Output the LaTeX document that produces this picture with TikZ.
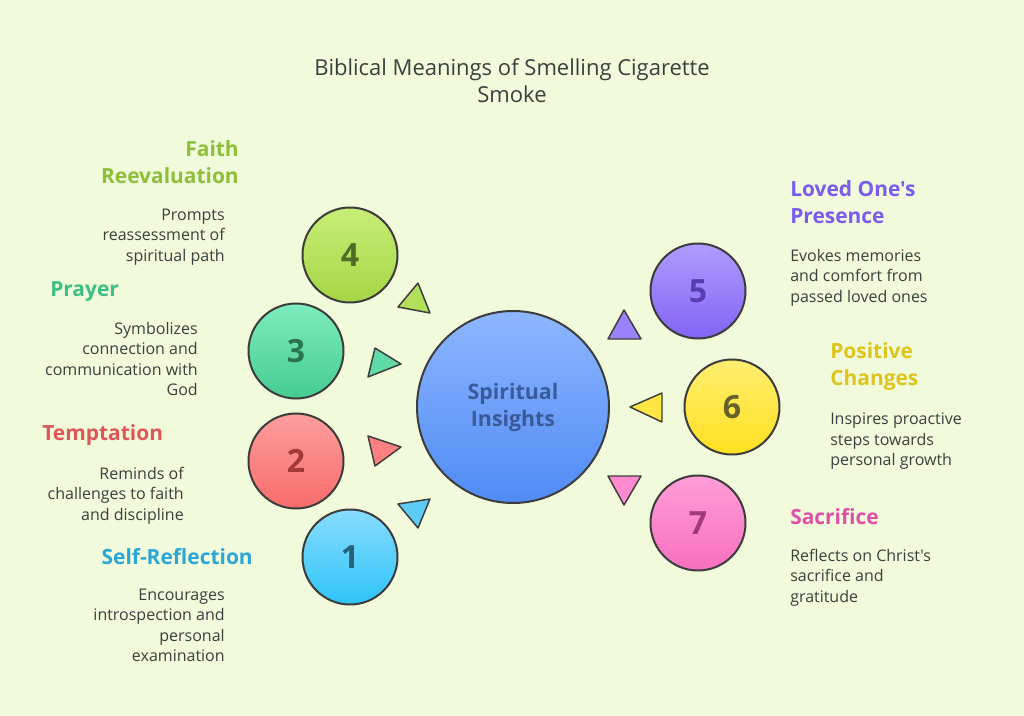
\documentclass[tikz,border=0pt]{standalone}
\usepackage{fontspec}
\setmainfont{Open Sans}[Ligatures=TeXOff]
\definecolor{bg}{HTML}{F1FADB}
\definecolor{edge}{HTML}{3C3C3C}
\definecolor{txt}{HTML}{3E3E3E}
\definecolor{cA}{HTML}{5CCBF5}\definecolor{cAt}{HTML}{88DDFF}\definecolor{cAb}{HTML}{2EC3F7}\definecolor{cAl}{HTML}{2AA7D6}\definecolor{cAn}{HTML}{2A6079}
\definecolor{cB}{HTML}{FF8080}\definecolor{cBt}{HTML}{FF9E9E}\definecolor{cBb}{HTML}{F86B6B}\definecolor{cBl}{HTML}{E05656}\definecolor{cBn}{HTML}{A33A3A}
\definecolor{cC}{HTML}{5EDBA6}\definecolor{cCt}{HTML}{7EECBE}\definecolor{cCb}{HTML}{45CC90}\definecolor{cCl}{HTML}{3DBE84}\definecolor{cCn}{HTML}{2A7452}
\definecolor{cD}{HTML}{B3E05A}\definecolor{cDt}{HTML}{C8EE78}\definecolor{cDb}{HTML}{A5D645}\definecolor{cDl}{HTML}{8EBF3A}\definecolor{cDn}{HTML}{4F6B26}
\definecolor{cE}{HTML}{9B82FA}\definecolor{cEt}{HTML}{B09CFF}\definecolor{cEb}{HTML}{8463F3}\definecolor{cEl}{HTML}{7A5CEF}\definecolor{cEn}{HTML}{5A3DB0}
\definecolor{cF}{HTML}{FFE545}\definecolor{cFt}{HTML}{FFEE70}\definecolor{cFb}{HTML}{FFE020}\definecolor{cFl}{HTML}{DDC51E}\definecolor{cFn}{HTML}{66602A}
\definecolor{cG}{HTML}{FF8ACF}\definecolor{cGt}{HTML}{FF9ED8}\definecolor{cGb}{HTML}{F86FC0}\definecolor{cGl}{HTML}{E04FA7}\definecolor{cGn}{HTML}{A03A7A}
\definecolor{cHt}{HTML}{8EB6FF}\definecolor{cHb}{HTML}{4F8BF5}\definecolor{cHn}{HTML}{3A5A98}
\tikzset{
  bub/.style={circle, draw=edge, line width=1.5pt, minimum size=71.25pt, inner sep=0pt, font=\bfseries\fontsize{24}{24}\selectfont},
  tri/.style={draw=edge, line width=1.1pt, line join=round},
  head/.style={font=\bfseries\fontsize{15.7}{20.25}\selectfont, inner sep=0pt},
  body/.style={font=\fontsize{12}{15.4}\selectfont, text=txt, inner sep=0pt},
}
\begin{document}
\begin{tikzpicture}[x=0.75pt,y=-0.75pt]
\fill[bg] (0,0) rectangle (1024,716);
\useasboundingbox (0,0) rectangle (1024,716);
% title
\node[font=\fontsize{16.5}{20.25}\selectfont, text=txt, align=center] (title) at (512,80.5) {Biblical Meanings of Smelling Cigarette\\Smoke};
% center
\node[circle, draw=edge, line width=1.5pt, minimum size=144pt, inner sep=0pt, top color=cHt, bottom color=cHb, text=cHn, align=center, font=\bfseries\fontsize{16}{20.25}\selectfont] (hub) at (513,407) {Spiritual\\Insights};
% bubbles
\node[bub, top color=cAt, bottom color=cAb, text=cAn] (n1) at (350,557) {1};
\node[bub, top color=cBt, bottom color=cBb, text=cBn] (n2) at (296,461) {2};
\node[bub, top color=cCt, bottom color=cCb, text=cCn] (n3) at (296,351) {3};
\node[bub, top color=cDt, bottom color=cDb, text=cDn] (n4) at (350,255) {4};
\node[bub, top color=cEt, bottom color=cEb, text=cEn] (n5) at (698,291) {5};
\node[bub, top color=cFt, bottom color=cFb, text=cFn] (n6) at (732,407) {6};
\node[bub, top color=cGt, bottom color=cGb, text=cGn] (n7) at (698,523) {7};
% triangles
\draw[tri, fill=cD] (418,283) -- (398,307) -- (430,313) -- cycle;
\draw[tri, fill=cC] (375,348) -- (368,377) -- (401,364) -- cycle;
\draw[tri, fill=cB] (368,436) -- (375,466) -- (401,447) -- cycle;
\draw[tri, fill=cA] (398,504) -- (430,499) -- (418,528) -- cycle;
\draw[tri, fill=cE] (624,310) -- (608,339) -- (641,339) -- cycle;
\draw[tri, fill=cF] (630,407) -- (662,393) -- (662,422) -- cycle;
\draw[tri, fill=cG] (608,476) -- (641,476) -- (624,505) -- cycle;
% left labels
\node[head, text=cDl, anchor=east, align=right] (h4) at (239,162.5) {Faith\\Reevaluation};
\node[body, anchor=east, align=right] (b4) at (225,237) {Prompts\\reassessment of\\spiritual path};
\node[head, text=cCl, anchor=west] (h3) at (50,292) {Prayer};
\node[body, anchor=east, align=right] (b3) at (198,359) {Symbolizes\\connection and\\communication with\\God};
\node[head, text=cBl, anchor=west] (h2) at (42,435) {Temptation};
\node[body, anchor=east, align=right] (b2) at (184,495.5) {Reminds of\\challenges to faith\\and discipline};
\node[head, text=cAl, anchor=east] (h1) at (253,557) {Self-Reflection};
\node[body, anchor=east, align=right] (b1) at (225,625.5) {Encourages\\introspection and\\personal\\examination};
% right labels
\node[head, text=cEl, anchor=west, align=left] (h5) at (790,202.5) {Loved One's\\Presence};
\node[body, anchor=west, align=left] (b5) at (790,277.5) {Evokes memories\\and comfort from\\passed loved ones};
\node[head, text=cFl, anchor=west, align=left] (h6) at (830,366.5) {Positive\\Changes};
\node[body, anchor=west, align=left] (b6) at (830,441.5) {Inspires proactive\\steps towards\\personal growth};
\node[head, text=cGl, anchor=west] (h7) at (790,517) {Sacrifice};
\node[body, anchor=west, align=left] (b7) at (790,577.5) {Reflects on Christ's\\sacrifice and\\gratitude};
\end{tikzpicture}
\end{document}
